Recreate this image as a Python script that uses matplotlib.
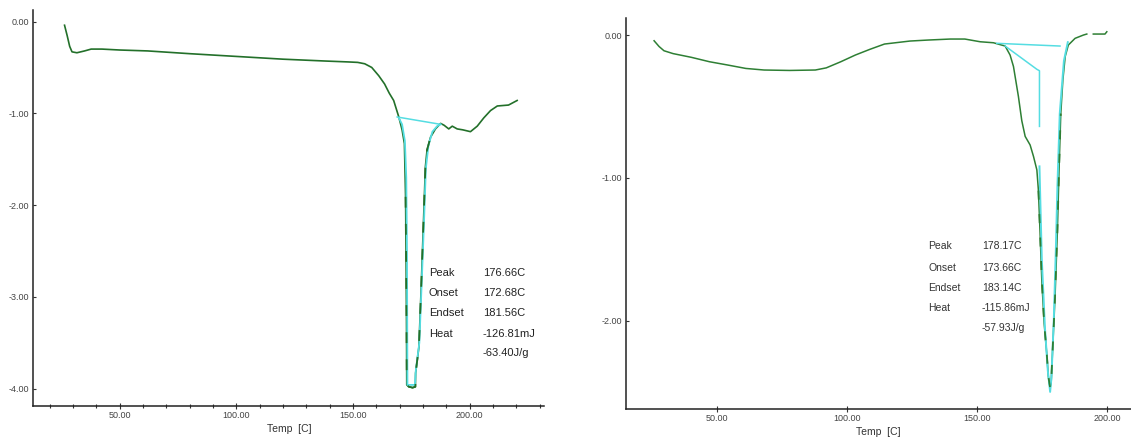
import matplotlib
matplotlib.use('Agg')
import matplotlib.pyplot as plt
from matplotlib.ticker import FixedLocator, MultipleLocator

plt.rcParams['font.family'] = ['Liberation Sans', 'DejaVu Sans']

# ---------------- Left DSC run ----------------
t1 = [26.4, 27.5, 28.6, 29.6, 31.7, 35.0, 37.8, 42.4, 50.0, 62.0, 80.0, 100.0,
      120.0, 138.0, 148.0, 152.0, 155.0, 158.0, 161.0, 163.5, 165.5, 167.4,
      169.6, 171.0, 172.0, 172.5, 172.7, 172.9, 173.0, 173.9, 175.5, 176.7,
      176.8, 178.2, 179.2, 180.0, 181.0, 181.7, 183.2, 185.3, 187.5, 189.0,
      191.0, 192.5, 194.6, 197.0, 200.3, 203.2, 206.0, 208.9, 211.8, 216.6,
      220.3]
h1 = [-0.04, -0.15, -0.27, -0.33, -0.34, -0.32, -0.30, -0.30, -0.31, -0.32,
      -0.35, -0.38, -0.41, -0.43, -0.44, -0.445, -0.46, -0.50, -0.59, -0.68,
      -0.78, -0.86, -1.04, -1.18, -1.33, -1.91, -2.5, -3.3, -3.96, -3.98,
      -3.99, -3.98, -3.83, -3.55, -2.89, -2.31, -1.58, -1.40, -1.26, -1.17,
      -1.11, -1.13, -1.17, -1.14, -1.17, -1.18, -1.20, -1.14, -1.05, -0.97,
      -0.92, -0.91, -0.86]
t1_fit = [169.6, 171.0, 172.2, 172.8, 173.1, 173.3, 176.5, 176.9, 178.4,
          179.4, 180.3, 181.2, 182.3, 184.0, 186.0, 187.5]
h1_fit = [-1.05, -1.12, -1.30, -1.70, -2.50, -3.96, -3.96, -3.80, -3.50,
          -2.85, -2.25, -1.60, -1.35, -1.20, -1.14, -1.12]
t1_base = [168.9, 187.5]
h1_base = [-1.04, -1.12]
names1 = ['Peak', 'Onset', 'Endset', 'Heat', '']
values1 = ['176.66C', '172.68C', '181.56C', '-126.81mJ', '-63.40J/g']
text1_y = [-2.74, -2.96, -3.18, -3.40, -3.61]
yticks1 = [0.0, -1.0, -2.0, -3.0, -4.0]
ylabels1 = ['0.00', '-1.00', '-2.00', '-3.00', '-4.00']

# ---------------- Right DSC run ----------------
t2 = [25.9, 27.8, 29.7, 33.2, 40.2, 47.2, 54.2, 61.2, 68.2, 78.0, 87.9, 92.1,
      97.7, 103.3, 108.9, 114.5, 124.3, 131.3, 139.8, 145.4, 151.3, 156.4,
      160.9, 162.8, 164.1, 166.0, 167.3, 168.6, 170.5, 171.8, 173.1, 173.7,
      174.3, 175.0, 175.9, 176.9, 177.5, 178.2, 178.6, 178.8, 179.5, 180.1,
      181.0, 181.7, 182.3, 183.1, 184.0, 185.2, 187.8, 191.0, 192.3]
h2 = [-0.04, -0.08, -0.11, -0.13, -0.156, -0.187, -0.21, -0.234, -0.245,
      -0.248, -0.245, -0.23, -0.187, -0.14, -0.10, -0.063, -0.042, -0.035,
      -0.028, -0.028, -0.047, -0.054, -0.077, -0.14, -0.22, -0.43, -0.60,
      -0.71, -0.77, -0.85, -0.945, -1.09, -1.37, -1.72, -2.02, -2.23, -2.39,
      -2.47, -2.44, -2.35, -2.07, -1.83, -1.37, -0.90, -0.55, -0.315, -0.15,
      -0.07, -0.023, 0.0, 0.007]
t2_tail = [194.8, 199.3, 200.0]
h2_tail = [0.007, 0.007, 0.023]
t2_base = [157.7, 182.0]
h2_base = [-0.058, -0.077]
t2_slope = [160.9, 173.1, 174.1, 174.1]
h2_slope = [-0.077, -0.24, -0.25, -0.64]
t2_fit = [174.1, 175.0, 176.2, 177.3, 178.2, 178.7, 179.6, 180.4, 181.0,
          181.9, 183.5, 185.0]
h2_fit = [-0.92, -1.57, -2.05, -2.35, -2.50, -2.40, -2.00, -1.50, -1.06,
          -0.55, -0.18, -0.05]
names2 = ['Peak', 'Onset', 'Endset', 'Heat', '']
values2 = ['178.17C', '173.66C', '183.14C', '-115.86mJ', '-57.93J/g']
text2_y = [-1.48, -1.63, -1.77, -1.91, -2.05]
yticks2 = [0.0, -1.0, -2.0]
ylabels2 = ['0.00', '-1.00', '-2.00']

xticks = [50, 100, 150, 200]
xlabels = ['50.00', '100.00', '150.00', '200.00']

GREEN = '#23702a'
GREEN2 = '#2e7f34'
CYAN = '#55dde2'

fig = plt.figure(figsize=(11.31, 4.37), dpi=100)
ax1 = fig.add_axes([0.0294, 0.0709, 0.452, 0.906])
ax2 = fig.add_axes([0.5535, 0.064, 0.4465, 0.895])


def style(ax, xlim, ylim, yt, yl, minor):
    ax.set_xlim(*xlim)
    ax.set_ylim(*ylim)
    for s in ['top', 'right']:
        ax.spines[s].set_visible(False)
    for s in ['left', 'bottom']:
        ax.spines[s].set_linewidth(1.1)
        ax.spines[s].set_color('#222222')
    ax.xaxis.set_major_locator(FixedLocator(xticks))
    ax.set_xticklabels(xlabels)
    ax.set_yticks(yt)
    ax.set_yticklabels(yl)
    if minor:
        ax.xaxis.set_minor_locator(MultipleLocator(10))
        ax.tick_params(axis='x', which='minor', direction='inout', length=3,
                       width=0.8, color='#333333')
    ax.tick_params(axis='x', which='major', direction='inout', length=4,
                   width=0.8, pad=1.5, labelsize=6.5, labelcolor='#444444',
                   color='#333333')
    ax.tick_params(axis='y', which='major', direction='in', length=2.5,
                   width=0.8, pad=3, labelsize=6.5, labelcolor='#444444',
                   color='#333333')
    ax.set_xlabel('Temp  [C]', fontsize=7.5, color='#333333', labelpad=3)


style(ax1, (13, 232), (-4.19, 0.125), yticks1, ylabels1, True)
style(ax2, (15.1, 209.3), (-2.62, 0.12), yticks2, ylabels2, False)

# left
ax1.plot(t1, h1, color=GREEN, lw=1.2, zorder=2)
ax1.plot(t1_base, h1_base, color=CYAN, lw=1.1, zorder=3)
ax1.plot(t1_fit, h1_fit, color=CYAN, lw=1.3, zorder=3)
pk = [i for i, t in enumerate(t1) if 172.5 <= t <= 183.2]
ax1.plot([t1[i] for i in pk], [h1[i] for i in pk], color=GREEN, lw=1.3,
         dashes=(6, 9), zorder=4)
for n, v, y in zip(names1, values1, text1_y):
    ax1.text(182.5, y, n, fontsize=8, color='#222222', va='center', ha='left')
    ax1.text(205.5, y, v, fontsize=8, color='#222222', va='center', ha='left')

# right
ax2.plot(t2, h2, color=GREEN2, lw=1.1, zorder=2)
ax2.plot(t2_tail, h2_tail, color=GREEN2, lw=1.1, zorder=2)
ax2.plot(t2_base, h2_base, color=CYAN, lw=1.1, zorder=3)
ax2.plot(t2_slope, h2_slope, color=CYAN, lw=1.1, zorder=3)
ax2.plot(t2_fit, h2_fit, color=CYAN, lw=1.4, zorder=3)
pk2 = [i for i, t in enumerate(t2) if 173.7 <= t <= 182.3]
ax2.plot([t2[i] for i in pk2], [h2[i] for i in pk2], color=GREEN2, lw=1.3,
         dashes=(5, 8), zorder=4)
for n, v, y in zip(names2, values2, text2_y):
    ax2.text(131.3, y, n, fontsize=7.5, color='#333333', va='center', ha='left')
    ax2.text(152.0, y, v, fontsize=7.5, color='#333333', va='center', ha='left')

fig.savefig('out.png', dpi=100)
